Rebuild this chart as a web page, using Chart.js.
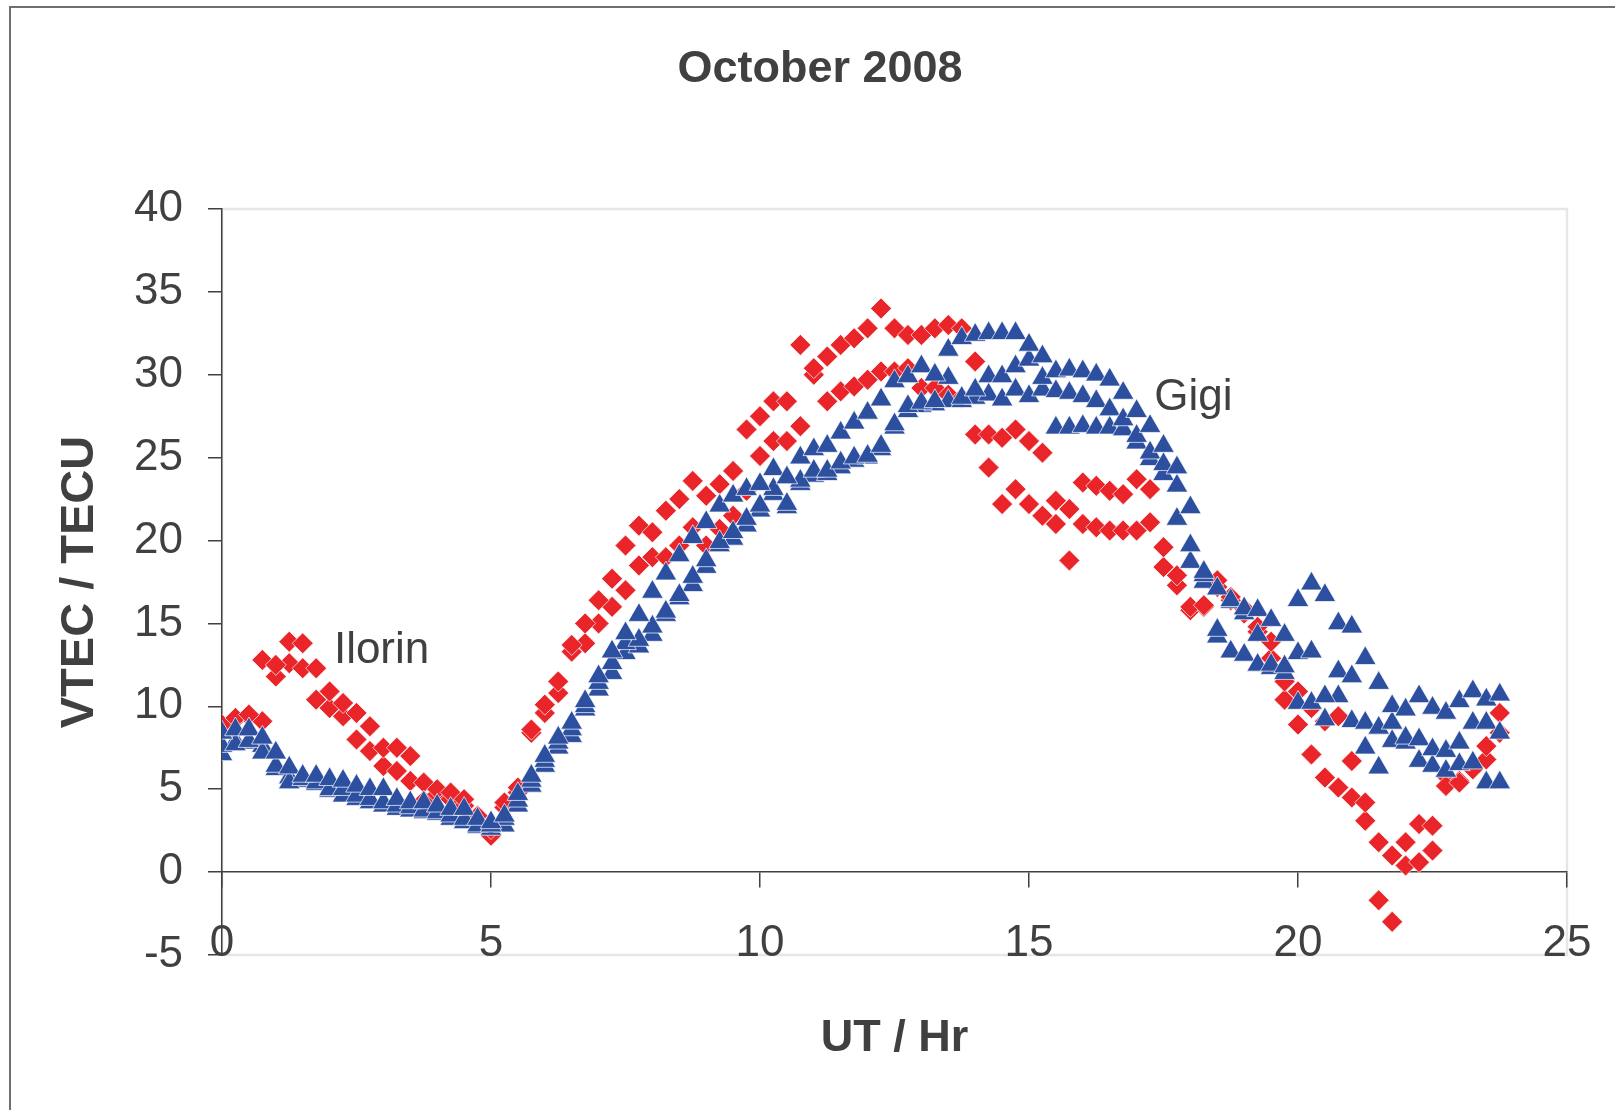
<!DOCTYPE html>
<html><head><meta charset="utf-8">
<script src="https://cdn.jsdelivr.net/npm/chart.js@4.4.1/dist/chart.umd.min.js"></script>
<style>html,body{margin:0;padding:0;background:#fff;}#wrap{position:relative;width:1615px;height:1110px;}</style>
</head><body><div id="wrap"><canvas id="c" width="1615" height="1110"></canvas></div>
<script>
// Universal time (hours), 15-minute samples
const hours = [0,0.25,0.5,0.75,1,1.25,1.5,1.75,2,2.25,2.5,2.75,3,3.25,3.5,3.75,4,4.25,4.5,4.75,5,5.25,5.5,5.75,6,6.25,6.5,6.75,7,7.25,7.5,7.75,8,8.25,8.5,8.75,9,9.25,9.5,9.75,10,10.25,10.5,10.75,11,11.25,11.5,11.75,12,12.25,12.5,12.75,13,13.25,13.5,13.75,14,14.25,14.5,14.75,15,15.25,15.5,15.75,16,16.25,16.5,16.75,17,17.25,17.5,17.75,18,18.25,18.5,18.75,19,19.25,19.5,19.75,20,20.25,20.5,20.75,21,21.25,21.5,21.75,22,22.25,22.5,22.75,23,23.25,23.5,23.75];

// Ilorin VTEC (TECU)
const ilorinA = [8.9,9.3,9.5,12.8,12.5,13.9,13.8,12.3,10.9,10.2,9.6,8.8,7.5,7.5,7.0,5.4,5.0,4.8,4.4,3.4,2.6,4.2,5.1,8.6,10.1,11.5,13.7,15.0,16.4,17.7,19.7,20.9,20.5,21.8,22.5,23.6,22.7,23.4,24.2,26.7,27.5,28.4,28.4,31.8,30.4,31.1,31.8,32.2,32.8,34.0,32.8,32.4,32.4,32.8,33.0,32.8,30.8,26.4,26.2,26.7,26.0,25.3,22.4,21.9,23.5,23.3,23.0,22.8,23.7,23.1,19.6,17.9,16.0,16.1,17.6,16.6,15.9,14.8,13.9,11.5,10.9,9.9,9.1,9.4,6.7,4.2,1.8,1.0,1.8,2.9,2.8,5.2,5.4,6.2,7.6,9.6];
const ilorinB = [8.8,9.2,9.4,9.1,11.8,12.6,12.3,10.4,9.9,9.4,8.0,7.3,6.4,6.1,5.5,4.3,4.7,4.4,4.0,3.0,2.2,3.9,4.8,8.4,9.6,10.8,13.3,13.8,15.0,16.0,17.0,18.5,19.0,19.0,19.7,20.8,19.7,20.7,21.5,23.0,25.1,26.0,26.0,26.9,30.0,28.4,29.0,29.3,29.7,30.2,30.2,30.4,29.2,29.2,28.8,28.6,26.4,24.4,22.2,23.1,22.2,21.5,21.0,18.8,21.0,20.8,20.6,20.6,20.6,21.1,18.4,17.3,15.8,16.0,17.2,16.4,15.6,14.5,12.9,10.4,8.9,7.1,5.7,5.1,4.5,3.1,-1.7,-3.0,0.4,0.6,1.3,5.8,5.5,6.4,6.8,8.4];

// Gigi VTEC (TECU)
const gigiA = [8.4,8.6,8.6,8.1,7.2,6.3,5.8,5.8,5.6,5.5,5.2,5.0,5.0,4.4,4.2,4.2,4.0,3.8,3.8,3.2,3.0,3.4,4.7,5.8,7.0,8.1,9.0,10.3,11.8,13.3,14.4,15.5,16.9,18.0,19.1,20.2,21.1,22.1,22.7,23.1,23.4,24.3,23.8,25.0,25.5,25.7,26.5,27.1,27.7,28.5,29.6,29.9,30.5,30.0,31.5,32.2,32.4,32.5,32.5,32.5,31.8,31.1,30.2,30.3,30.2,30.0,29.7,28.9,27.8,26.9,25.7,24.4,22.0,18.1,17.1,16.4,15.9,15.8,15.2,14.3,16.4,17.4,16.7,15.0,14.8,12.9,11.4,10.0,9.8,10.6,9.9,9.6,10.3,10.9,10.4,10.7];
const gigiB = [7.6,7.7,7.9,7.2,6.4,5.4,5.6,5.4,5.0,5.0,4.6,4.4,4.2,4.0,3.9,3.7,3.6,3.4,3.2,2.8,2.8,3.2,4.3,5.5,6.7,7.8,8.6,10.0,11.4,12.6,13.8,14.0,14.8,15.7,16.7,17.8,18.8,19.9,20.5,21.3,22.1,23.1,22.2,23.6,24.2,24.2,24.7,25.0,25.1,25.7,27.0,28.1,28.3,28.4,29.8,28.6,29.1,29.9,29.9,30.5,30.9,29.8,29.0,28.9,28.7,28.4,27.9,27.3,26.3,25.3,24.6,23.3,19.7,17.9,14.6,16.3,15.6,14.3,12.5,12.4,13.2,13.3,10.6,12.1,11.8,9.0,8.7,9.0,8.1,8.0,7.4,7.3,7.8,9.0,9.0,8.4];
const gigiC = [7.1,7.9,7.8,7.6,6.2,5.7,5.5,5.3,4.9,4.6,4.4,4.2,4.0,3.8,3.7,3.6,3.5,3.2,3.0,2.7,2.6,2.8,4.0,5.2,6.4,7.5,8.2,9.8,11.0,12.0,13.2,13.6,14.3,15.5,16.5,17.3,18.4,19.7,20.1,20.9,21.8,22.8,22.0,23.4,23.9,24.0,24.4,24.8,25.0,25.5,26.8,27.8,28.1,28.2,28.4,28.4,28.6,28.8,28.5,29.1,28.7,29.1,26.8,26.8,26.9,26.8,26.8,26.7,25.9,24.9,24.0,21.3,18.7,17.5,14.2,13.3,13.1,12.5,12.3,12.0,10.2,10.2,9.2,10.6,9.1,7.5,6.3,7.9,7.8,6.7,6.4,6.1,6.5,6.6,5.4,5.4];

const xTicks = [0,5,10,15,20,25];
const yTicks = [-5,0,5,10,15,20,25,30,35,40];

const RED = '#E9252A';
const BLUE = '#2C4F9F';
const TEXT = '#404040';
const FONT = "'Liberation Sans', Arial, sans-serif";

function pts(arr){ return hours.map((h,i)=>({x:h, y:arr[i]})); }
function gigiSet(arr){ return {label:'Gigi', data:pts(arr), pointStyle:'triangle', pointRadius:12.5, backgroundColor:BLUE, borderColor:'#ffffff', pointBorderWidth:0.7, showLine:false}; }
function ilorinSet(arr){ return {label:'Ilorin', data:pts(arr), pointStyle:'rectRot', pointRadius:10.5, backgroundColor:RED, borderColor:'#ffffff', pointBorderWidth:0.7, showLine:false}; }

const framePlugin = {
  id:'frame',
  beforeDraw(chart){
    const c = chart.ctx, a = chart.chartArea;
    c.save();
    c.strokeStyle = '#6e6e6e'; c.lineWidth = 2;
    c.beginPath(); c.moveTo(10, 1110); c.lineTo(10, 7); c.lineTo(1615, 7); c.stroke();
    c.strokeStyle = '#e6e6e6'; c.lineWidth = 2.5;
    c.strokeRect(a.left, a.top, a.right - a.left, a.bottom - a.top);
    c.restore();
  },
  afterDraw(chart){
    const c = chart.ctx, xs = chart.scales.x, ys = chart.scales.y;
    c.save();
    c.fillStyle = TEXT;
    c.font = "bold 45px " + FONT;
    c.textAlign = 'center'; c.textBaseline = 'middle';
    c.fillText('October 2008', 820, 70);
    c.font = "44px " + FONT;
    c.textAlign = 'left'; c.textBaseline = 'alphabetic';
    c.fillText('Ilorin', xs.getPixelForValue(2.08), ys.getPixelForValue(12.6));
    c.fillText('Gigi', xs.getPixelForValue(17.33), ys.getPixelForValue(27.9));
    c.restore();
  }
};

new Chart(document.getElementById('c'), {
  type:'scatter',
  data:{ datasets:[ gigiSet(gigiA), gigiSet(gigiB), gigiSet(gigiC), ilorinSet(ilorinA), ilorinSet(ilorinB) ] },
  options:{
    responsive:false, animation:false, events:[],
    layout:{ padding:{ top:209, right:48, bottom:155, left:0 } },
    plugins:{ legend:{display:false}, tooltip:{enabled:false}, title:{display:false} },
    scales:{
      x:{
        type:'linear', min:0, max:25, position:{y:0},
        afterBuildTicks(s){ s.ticks = xTicks.map(v=>({value:v})); },
        afterFit(s){ s.paddingRight = 0; s.paddingLeft = 0; },
        ticks:{ color:TEXT, font:{family:FONT, size:44}, padding:30, maxRotation:0 },
        grid:{ drawOnChartArea:false, drawTicks:true, tickLength:15, color:'#404040', lineWidth:1.5 },
        border:{ display:true, color:'#404040', width:1.5 },
        title:{ display:true, text:'UT / Hr', color:TEXT, font:{family:FONT, size:45, weight:'bold'}, padding:{top:12, bottom:0} }
      },
      y:{
        type:'linear', min:-5, max:40, position:'left',
        afterBuildTicks(s){ s.ticks = yTicks.map(v=>({value:v})); },
        afterFit(s){ s.width = 222; },
        ticks:{ color:TEXT, font:{family:FONT, size:44}, padding:25 },
        grid:{ drawOnChartArea:false, drawTicks:true, tickLength:14, color:'#404040', lineWidth:1.5 },
        border:{ display:true, color:'#404040', width:1.5 },
        title:{ display:true, text:'VTEC / TECU', color:TEXT, font:{family:FONT, size:47, weight:'bold'}, padding:{top:52, bottom:0} }
      }
    }
  },
  plugins:[framePlugin]
});
</script></body></html>
